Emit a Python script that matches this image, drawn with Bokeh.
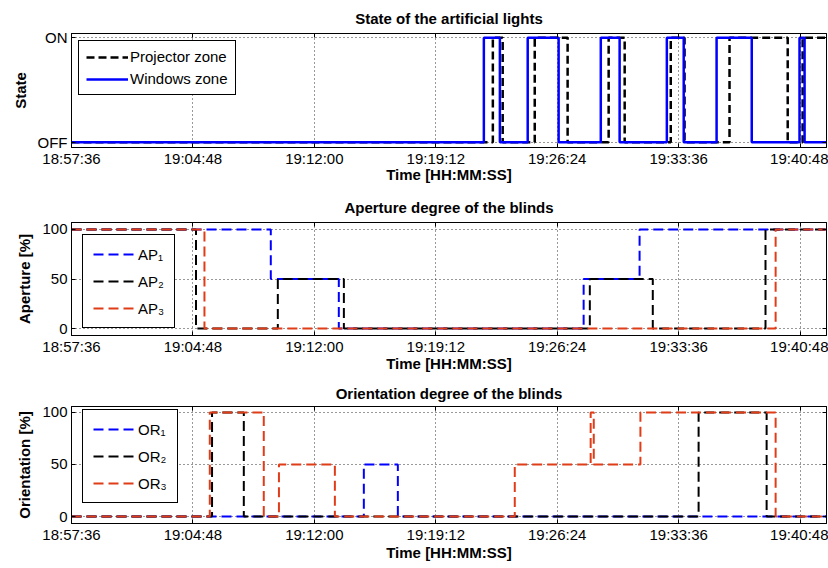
from bokeh.plotting import figure
from bokeh.layouts import column
from bokeh.models import FixedTicker, Legend, LegendItem, Range1d, LinearAxis
from bokeh.embed import file_html
from bokeh.resources import INLINE

# ---------------- data ----------------
T_START = "18:57:36"
T_END = "19:42:22"
tick_labels = ["18:57:36", "19:04:48", "19:12:00", "19:19:12", "19:26:24", "19:33:36", "19:40:48"]

proj_times = ["18:57:36", "19:22:35", "19:23:10", "19:25:04", "19:27:01", "19:29:27", "19:30:24",
              "19:33:08", "19:33:57", "19:36:37", "19:40:04", "19:40:57"]
proj_state = [0, 1, 0, 1, 0, 1, 0, 1, 0, 1, 0, 1]
win_times = ["18:57:36", "19:22:03", "19:23:00", "19:24:39", "19:26:29", "19:28:59", "19:30:06",
             "19:32:54", "19:33:54", "19:35:51", "19:37:56", "19:40:46", "19:41:04"]
win_state = [0, 1, 0, 1, 0, 1, 0, 1, 0, 1, 0, 1, 0]

ap1_times = ["18:57:36", "19:09:25", "19:13:27", "19:27:58", "19:31:17"]
ap1 = [100, 50, 0, 50, 100]
ap2_times = ["18:57:36", "19:04:59", "19:09:50", "19:13:45", "19:28:20", "19:32:04", "19:38:45"]
ap2 = [100, 0, 50, 0, 50, 0, 100]
ap3_times = ["18:57:36", "19:05:29", "19:39:21"]
ap3 = [100, 0, 100]

or1_times = ["18:57:36", "19:14:56", "19:16:57"]
or1 = [0, 50, 0]
or2_times = ["18:57:36", "19:05:56", "19:07:49", "19:34:47", "19:38:49"]
or2 = [0, 100, 0, 100, 0]
or3_times = ["18:57:36", "19:05:48", "19:09:00", "19:09:54", "19:13:13", "19:23:53", "19:28:23",
             "19:28:34", "19:31:20", "19:39:21"]
or3 = [0, 100, 0, 50, 0, 50, 100, 50, 100, 0]

# ---------------- helpers ----------------
def ts(s):
    h, m, sec = map(int, s.split(":"))
    return h * 3600 + m * 60 + sec

x0, x1 = ts(T_START), ts(T_END)
tick_vals = [ts(t) for t in tick_labels]

FONT = "Liberation Sans"
BLUE = "#0000ff"
RED = "#e03c18"
BLACK = "#000000"


def steps(times, vals):
    xs = [ts(t) for t in times] + [x1]
    ys = list(vals) + [vals[-1]]
    return xs, ys


def style_axis(ax):
    ax.major_tick_in = 4
    ax.major_tick_out = 0
    ax.minor_tick_line_color = None
    ax.axis_line_color = "black"
    ax.major_tick_line_color = "black"


def mirror_axis(p, side, ticks):
    ax = LinearAxis(ticker=FixedTicker(ticks=ticks))
    style_axis(ax)
    ax.major_label_text_color = None
    ax.major_label_text_font_size = "1px"
    ax.major_label_standoff = 0
    p.add_layout(ax, side)


def make_fig(title, ylabel, yr, yticks, ylabels, height, top, bottom, title_standoff, xl_standoff):
    p = figure(width=828, height=height, output_backend="svg", toolbar_location=None,
               x_range=Range1d(x0, x1), y_range=Range1d(*yr),
               min_border_left=71, min_border_right=2, min_border_top=top, min_border_bottom=bottom)
    p.title.text = title
    p.title.align = "center"
    p.title.text_font = FONT
    p.title.text_font_size = "15px"
    p.title.text_font_style = "bold"
    p.title.text_color = "black"
    p.title.standoff = title_standoff
    p.outline_line_color = "black"
    p.outline_line_width = 1
    p.outline_line_alpha = 1
    xa = p.xaxis[0]
    xa.ticker = FixedTicker(ticks=tick_vals)
    xa.major_label_overrides = {v: l for v, l in zip(tick_vals, tick_labels)}
    xa.axis_label = "Time [HH:MM:SS]"
    ya = p.yaxis[0]
    ya.ticker = FixedTicker(ticks=yticks)
    ya.major_label_overrides = {v: l for v, l in zip(yticks, ylabels)}
    ya.axis_label = ylabel
    for ax in (xa, ya):
        style_axis(ax)
        ax.major_label_text_font = FONT
        ax.major_label_text_font_size = "15px"
        ax.major_label_text_color = "black"
        ax.axis_label_text_font = FONT
        ax.axis_label_text_font_style = "bold"
        ax.axis_label_text_color = "black"
    xa.axis_label_text_font_size = "15px"
    xa.axis_label_standoff = xl_standoff
    xa.major_label_standoff = 2
    ya.axis_label_text_font_size = "15px"
    ya.axis_label_standoff = 6
    ya.major_label_standoff = 4
    mirror_axis(p, "right", yticks)
    mirror_axis(p, "above", tick_vals)
    for g in (p.xgrid[0], p.ygrid[0]):
        g.grid_line_color = "black"
        g.grid_line_dash = "1 3"
        g.grid_line_alpha = 0.8
        g.grid_line_width = 1
    p.background_fill_color = "white"
    p.border_fill_color = "white"
    return p


def add_legend(p, items, glyph_w, label_h, spacing, pad, offx, offy):
    leg = Legend(items=items, location=(offx, offy))
    leg.label_text_font = FONT
    leg.label_text_font_size = "15px"
    leg.label_text_color = "black"
    leg.border_line_color = "black"
    leg.border_line_width = 1
    leg.border_line_alpha = 1
    leg.background_fill_alpha = 1
    leg.glyph_width = glyph_w
    leg.label_height = label_h
    leg.glyph_height = label_h
    leg.spacing = spacing
    leg.padding = pad
    leg.margin = 0
    leg.label_standoff = 2
    p.add_layout(leg, "center")


# ---------------- panel 1 ----------------
p1 = make_fig("State of the artificial lights", "State", (-0.05, 1.04), [0, 1], ["OFF", "ON"],
              190, 33, 43, 14, -4)
xs, ys = steps(proj_times, proj_state)
r_proj = p1.step(xs, ys, mode="after", line_color=BLACK, line_width=2.5, line_dash="8 4")
xs, ys = steps(win_times, win_state)
r_win = p1.step(xs, ys, mode="after", line_color=BLUE, line_width=2.5)
add_legend(p1, [LegendItem(label="Projector zone", renderers=[r_proj]),
                LegendItem(label="Windows zone", renderers=[r_win])],
           42, 16, 5, 7, 7, 52)

# ---------------- panel 2 ----------------
p2 = make_fig("Aperture degree of the blinds", "Aperture [%]", (-7, 107), [0, 50, 100], ["0", "50", "100"],
              188, 31, 43, 13, -3)
xs, ys = steps(ap1_times, ap1)
r1 = p2.step(xs, ys, mode="after", line_color=BLUE, line_width=2, line_dash="10 5")
xs, ys = steps(ap2_times, ap2)
r2 = p2.step(xs, ys, mode="after", line_color=BLACK, line_width=2, line_dash="10 5")
xs, ys = steps(ap3_times, ap3)
r3 = p2.step(xs, ys, mode="after", line_color=RED, line_width=2, line_dash="10 5")
add_legend(p2, [LegendItem(label="AP\u2081", renderers=[r1]),
                LegendItem(label="AP\u2082", renderers=[r2]),
                LegendItem(label="AP\u2083", renderers=[r3])],
           43, 18, 9, 10, 11, 7)

# ---------------- panel 3 ----------------
p3 = make_fig("Orientation degree of the blinds", "Orientation [%]", (-6.7, 105.7), [0, 50, 100], ["0", "50", "100"],
              190, 27, 45, 9, -2)
xs, ys = steps(or1_times, or1)
q1 = p3.step(xs, ys, mode="after", line_color=BLUE, line_width=2, line_dash="10 5")
xs, ys = steps(or2_times, or2)
q2 = p3.step(xs, ys, mode="after", line_color=BLACK, line_width=2, line_dash="10 5")
xs, ys = steps(or3_times, or3)
q3 = p3.step(xs, ys, mode="after", line_color=RED, line_width=2, line_dash="10 5")
add_legend(p3, [LegendItem(label="OR\u2081", renderers=[q1]),
                LegendItem(label="OR\u2082", renderers=[q2]),
                LegendItem(label="OR\u2083", renderers=[q3])],
           43, 18, 9, 10, 11, 20)

layout = column(p1, p2, p3, spacing=0)
open("out.html", "w").write(file_html(layout, INLINE))
